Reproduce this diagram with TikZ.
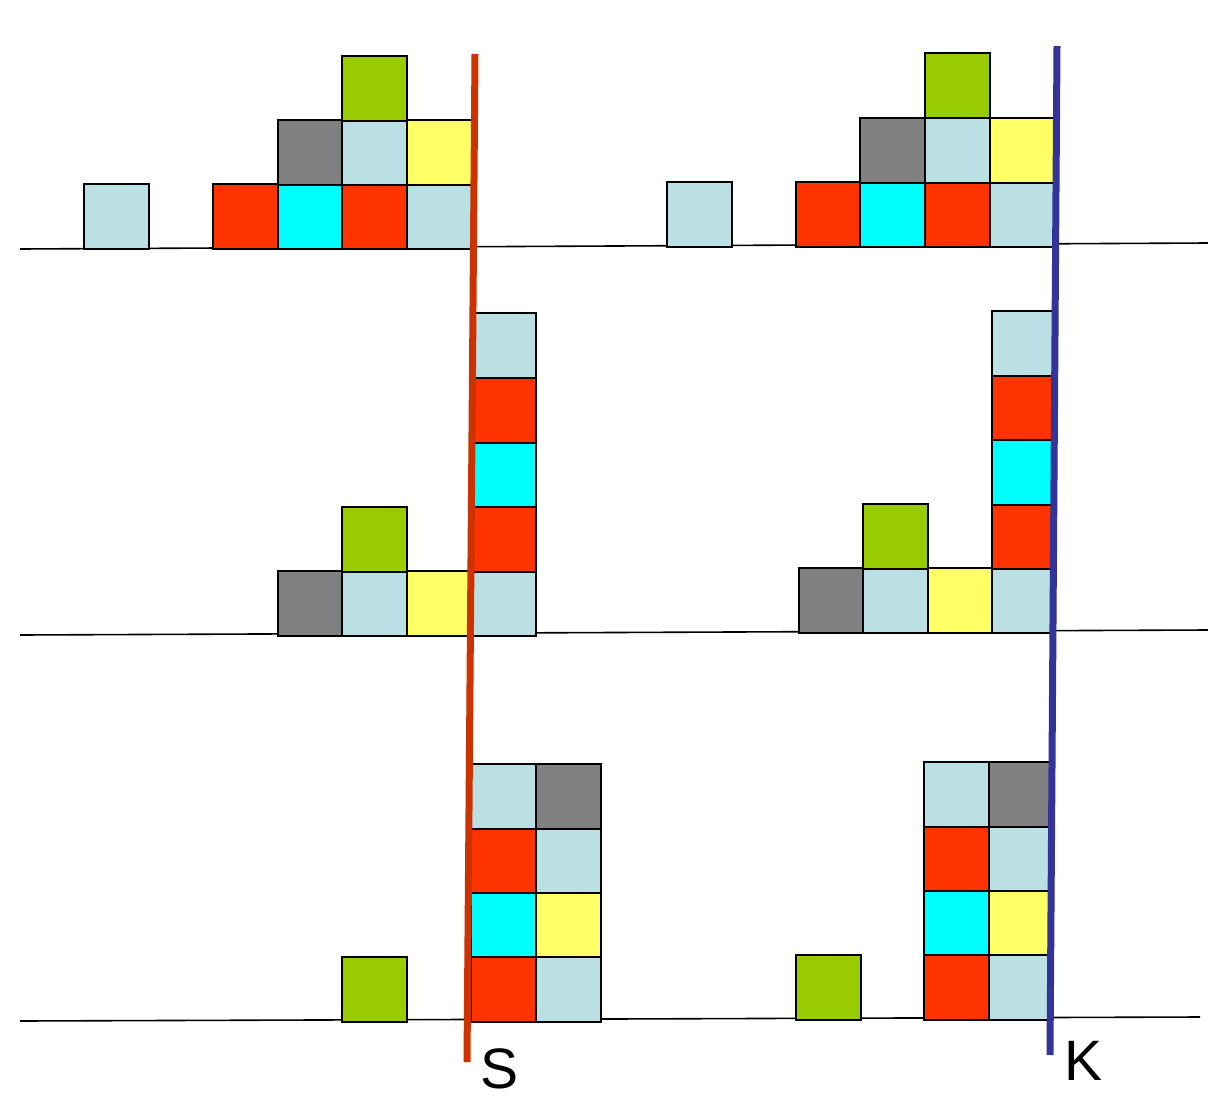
\documentclass[tikz,border=0pt]{standalone}
\usepackage{fontspec}
\setmainfont{Liberation Sans}
\definecolor{lb}{HTML}{BBE0E3}
\definecolor{rd}{HTML}{FF3300}
\definecolor{cy}{HTML}{00FFFF}
\definecolor{ye}{HTML}{FFFF66}
\definecolor{gy}{HTML}{808080}
\definecolor{gr}{HTML}{99CC00}
\definecolor{sline}{HTML}{CC3300}
\definecolor{kline}{HTML}{333399}
\begin{document}
\begin{tikzpicture}[x=1pt,y=-1pt,line join=miter,
  cell/.style={draw=black,line width=2pt},
  ground/.style={draw=black,line width=1.6pt},
  cut/.style={line width=7pt},
  lab/.style={font=\fontsize{57}{60}\selectfont,inner sep=0pt}]
\useasboundingbox (0,0) rectangle (1208,1103);
% ground lines
\draw[ground] (20,249)--(1208,243);
\draw[ground] (20,635)--(1208,630);
\draw[ground] (20,1021)--(1200,1017);
% top row
\foreach \x/\y/\c in {84/184/lb,213/184/rd,278/184/cy,342/184/rd,407/184/lb,278/120/gy,342/120/lb,407/120/ye,342/56/gr,
  667/182/lb,796/182/rd,860/182/cy,925/182/rd,990/182/lb,860/118/gy,925/118/lb,990/118/ye,925/53/gr}
\draw[cell,fill=\c] (\x,\y) rectangle ++(64.5,64.5);
% middle row
\foreach \x/\y/\c in {278/571/gy,342/571/lb,407/571/ye,471/571/lb,342/507/gr,471/507/rd,471/442/cy,471/378/rd,471/313/lb,
  799/568/gy,863/568/lb,928/568/ye,863/504/gr}
\draw[cell,fill=\c] (\x,\y) rectangle ++(64.5,64.5);
\foreach \y/\c in {568/lb,504/rd,440/cy,375/rd,311/lb}
\draw[cell,fill=\c] (992,\y) rectangle ++(61,64.5);
% bottom row
\foreach \x/\y/\c in {342/957/gr,471/957/rd,536/957/lb,471/892/cy,536/892/ye,471/828/rd,536/828/lb,471/764/lb,536/764/gy,
  796/955/gr,924/955/rd,924/890/cy,924/826/rd,924/762/lb}
\draw[cell,fill=\c] (\x,\y) rectangle ++(64.5,64.5);
\foreach \y/\c in {955/lb,890/ye,826/lb,762/gy}
\draw[cell,fill=\c] (989,\y) rectangle ++(61,64.5);
% cut lines
\coordinate (s1) at (475,54);
\coordinate (s2) at (467,1062);
\coordinate (k1) at (1057,46);
\coordinate (k2) at (1050,1055);
\draw[cut,sline] (s1)--(s2);
\draw[cut,kline] (k1)--(k2);
\node[lab] (S) at (500,1069) {S};
\node[lab] (K) at (1083,1061) {K};
\end{tikzpicture}
\end{document}
